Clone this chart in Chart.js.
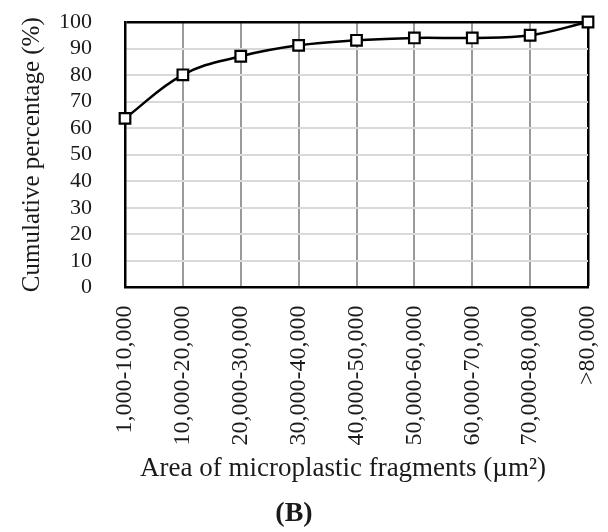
<!DOCTYPE html>
<html>
<head>
<meta charset="utf-8">
<script src="https://cdn.jsdelivr.net/npm/chart.js@4/dist/chart.umd.min.js"></script>
<style>
  html, body { margin: 0; padding: 0; background: #ffffff; }
  #wrap { width: 608px; height: 532px; position: relative; }
</style>
</head>
<body>
<div id="wrap"><canvas id="c" width="608" height="532"></canvas></div>
<script>
const categories = ["1,000-10,000", "10,000-20,000", "20,000-30,000", "30,000-40,000", "40,000-50,000", "50,000-60,000", "60,000-70,000", "70,000-80,000", ">80,000"];
const cumulativePercent = [63.7, 80.1, 87.1, 91.2, 93.1, 94.0, 94.0, 95.0, 100];
const yTickLabels = ["0", "10", "20", "30", "40", "50", "60", "70", "80", "90", "100"];
const yAxisTitle = "Cumulative percentage (%)";
const xAxisTitle = "Area of microplastic fragments (\u00b5m\u00b2)";
const panelLabel = "(B)";

const serif = "'Liberation Serif', 'DejaVu Serif', serif";
const textColor = "#1a1a1a";

new Chart(document.getElementById('c'), {
  type: 'line',
  data: {
    labels: categories,
    datasets: [{
      data: cumulativePercent,
      borderColor: '#000000',
      borderWidth: 2.5,
      tension: 0.4,
      fill: false,
      clip: false,
      pointStyle: 'rect',
      pointRadius: 7.5,
      pointHoverRadius: 7.5,
      pointBackgroundColor: '#ffffff',
      pointBorderColor: '#000000',
      pointBorderWidth: 2.2
    }]
  },
  options: {
    responsive: false,
    animation: false,
    devicePixelRatio: 1,
    layout: { padding: { left: 0, right: 20, top: 22, bottom: 0 } },
    plugins: {
      legend: { display: false },
      tooltip: { enabled: false },
      title: {
        display: true,
        position: 'bottom',
        text: panelLabel,
        color: textColor,
        font: { family: serif, size: 28, weight: 'bold' },
        padding: { top: 6, bottom: 1 }
      }
    },
    scales: {
      x: {
        offset: false,
        grid: {
          drawTicks: false,
          color: (ctx) => ctx.index === categories.length - 1 ? '#000000' : '#9a9a9a',
          lineWidth: (ctx) => ctx.index === categories.length - 1 ? 2.5 : 2
        },
        border: { display: true, color: '#000000', width: 2.5 },
        ticks: {
          color: textColor,
          font: { family: serif, size: 24 },
          maxRotation: 90,
          minRotation: 90,
          padding: 18,
          autoSkip: false
        },
        title: {
          display: true,
          text: xAxisTitle + "\u00a0\u00a0\u00a0\u00a0",
          color: textColor,
          font: { family: serif, size: 27 },
          padding: { top: 0, bottom: 6 }
        },
        afterFit: (s) => { s.height = 204; s.paddingLeft = 0; s.paddingRight = 0; }
      },
      y: {
        min: 0,
        max: 100,
        grid: {
          drawTicks: false,
          color: (ctx) => ctx.tick && ctx.tick.value === 100 ? '#000000' : '#d9d9d9',
          lineWidth: (ctx) => ctx.tick && ctx.tick.value === 100 ? 2.5 : 2
        },
        border: { display: true, color: '#000000', width: 2.5 },
        ticks: {
          stepSize: 10,
          autoSkip: false,
          color: textColor,
          font: { family: serif, size: 22 },
          padding: 33,
          callback: (v) => yTickLabels[Math.round(v / 10)]
        },
        title: {
          display: true,
          text: yAxisTitle,
          color: textColor,
          font: { family: serif, size: 25 },
          padding: { top: 17, bottom: 0 }
        },
        afterFit: (s) => { s.width = 125; s.paddingTop = 0; s.paddingBottom = 0; }
      }
    }
  }
});
</script>
</body>
</html>
